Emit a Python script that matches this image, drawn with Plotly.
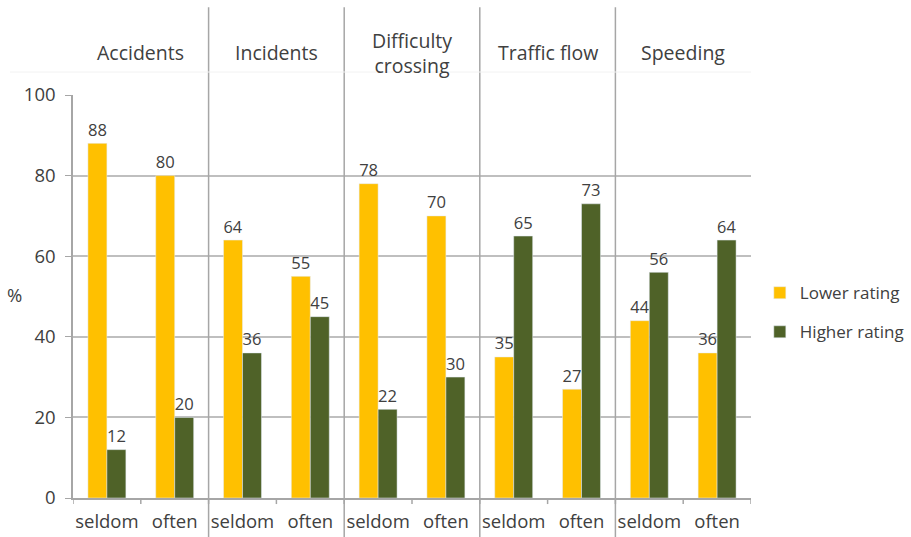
import plotly.graph_objs as go

topics = ['Accidents', 'Incidents', 'Difficulty<br>crossing', 'Traffic flow', 'Speeding']
freq = ['seldom', 'often']
lower = [88, 80, 64, 55, 78, 70, 35, 27, 44, 36]
higher = [12, 20, 36, 45, 22, 30, 65, 73, 56, 64]

pos = list(range(len(lower)))
ticks = freq * len(topics)
font = dict(family='Open Sans, Lato, sans-serif', size=18.5, color='#404040')
cat_font = dict(family='Open Sans, Lato, sans-serif', size=19.5, color='#404040')
leg_font = dict(family='Open Sans, Lato, sans-serif', size=17, color='#404040')

fig = go.Figure()
fig.add_trace(go.Bar(x=pos, y=lower, name='Lower rating', marker_color='#FFC000',
                     text=lower, textposition='outside', textfont=font, cliponaxis=False,
                     legendgroup='a'))
fig.add_trace(go.Bar(x=pos, y=higher, name='Higher rating', marker_color='#4F6228',
                     text=higher, textposition='outside', textfont=font, cliponaxis=False,
                     legendgroup='b'))

# separators between topics
for i in range(1, len(topics)):
    fig.add_shape(type='line', xref='x', yref='paper', x0=2 * i - 0.5, x1=2 * i - 0.5,
                  y0=-0.2, y1=1.218, line=dict(color='#A6A6A6', width=1.5))
fig.add_shape(type='line', xref='paper', yref='paper', x0=-0.093, x1=1.0, y0=1.057, y1=1.057,
              line=dict(color='#F2F2F2', width=1))

for i, t in enumerate(topics):
    fig.add_annotation(x=2 * i + 0.5, y=1.105, xref='x', yref='paper', text=t,
                       showarrow=False, font=cat_font, yanchor='middle')
fig.add_annotation(x=-0.1, y=0.504, xref='paper', yref='paper', text='%',
                   showarrow=False, font=font)

fig.update_layout(
    width=911, height=537,
    margin=dict(l=73, r=160, t=95, b=39, autoexpand=False),
    paper_bgcolor='white', plot_bgcolor='white',
    barmode='group', bargap=0.44, bargroupgap=0,
    font=font,
    showlegend=True,
    legend=dict(x=1.013, y=0.553, xanchor='left', yanchor='top', font=leg_font,
                traceorder='grouped', tracegroupgap=14),
    xaxis=dict(tickmode='array', tickvals=pos, ticktext=ticks, range=[-0.5, 9.5],
               showgrid=False, showline=True, linecolor='#A6A6A6', linewidth=1.5,
               ticks='', zeroline=False, tickfont=font, automargin=False,
               ticklabelstandoff=6),
    yaxis=dict(range=[0, 100], dtick=20, showgrid=True, gridcolor='#BFBFBF', gridwidth=1.5,
               showline=True, linecolor='#A6A6A6', linewidth=1.5, ticks='outside',
               ticklen=6, tickcolor='#A6A6A6', zeroline=False, tickfont=font,
               automargin=False, ticklabelstandoff=6),
)

# minor tick marks at slot boundaries on the x axis
for b in range(len(lower) + 1):
    fig.add_shape(type='line', xref='x', yref='paper', x0=b - 0.5, x1=b - 0.5,
                  y0=0, y1=-0.015, line=dict(color='#A6A6A6', width=1.5))

# drop the default 8px body margin so the figure fills the window exactly
fig.write_html('out.html', config={'displayModeBar': False},
               post_script="document.body.style.margin='0px';")
